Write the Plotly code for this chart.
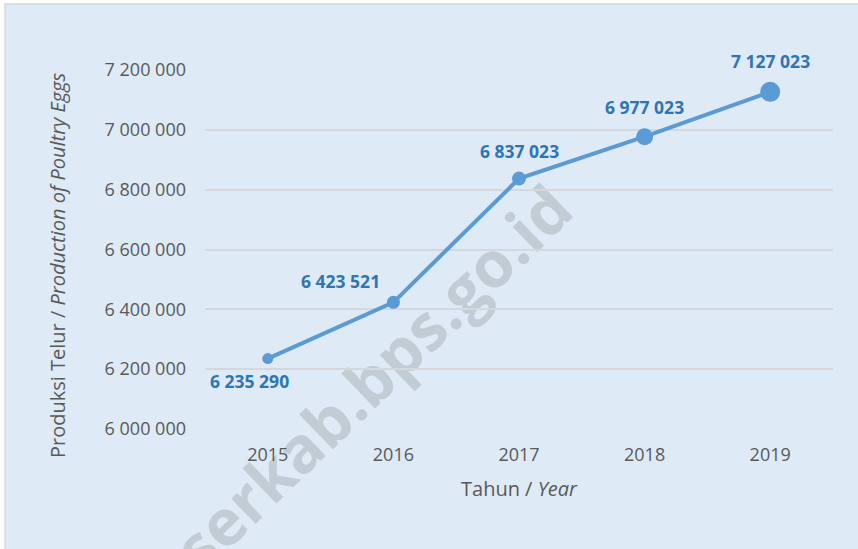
import plotly.graph_objects as go

years = ["2015", "2016", "2017", "2018", "2019"]
production = [6235290, 6423521, 6837023, 6977023, 7127023]
labels = ["6 235 290", "6 423 521", "6 837 023", "6 977 023", "7 127 023"]
marker_sizes = [11, 13, 14, 17, 20]
label_shift_x = [-18, -53, 0, 0, 0]
label_shift_y = [-22, 21, 28, 30, 31]
y_ticks = [6000000, 6200000, 6400000, 6600000, 6800000, 7000000, 7200000]
y_tick_text = ["6 000 000", "6 200 000", "6 400 000", "6 600 000", "6 800 000", "7 000 000", "7 200 000"]

W, H = 858, 549
ML, MR, MT, MB = 205, 25, 70, 120
pw, ph = W - ML - MR, H - MT - MB

def px_x(p):
    return (p - ML) / pw

def px_y(p):
    return (H - MB - p) / ph

BG = "#DEEAF6"
FONT = "Open Sans"

fig = go.Figure()
fig.add_trace(go.Scatter(
    x=years, y=production, mode="lines+markers",
    line=dict(color="#5B9BD5", width=4),
    marker=dict(color="#5B9BD5", size=marker_sizes, opacity=1, line=dict(width=0)),
    hoverinfo="skip", showlegend=False,
))

annotations = []
for i, (v, lab, sx, sy) in enumerate(zip(production, labels, label_shift_x, label_shift_y)):
    annotations.append(dict(x=i, y=v, xref="x", yref="y", text="<b>" + lab + "</b>",
                            showarrow=False, xshift=sx, yshift=sy,
                            xanchor="center", yanchor="middle",
                            font=dict(family=FONT, size=17.5, color="#2E75B6")))

annotations.append(dict(x=px_x(57), y=px_y(265), xref="paper", yref="paper",
                        text="Produksi Telur / <i>Production of Poultry Eggs</i>",
                        textangle=-90, showarrow=False, xanchor="center", yanchor="middle",
                        font=dict(family=FONT, size=20, color="#595959")))
annotations.append(dict(x=px_x(519), y=px_y(488), xref="paper", yref="paper",
                        text="Tahun / <i>Year</i>", showarrow=False,
                        xanchor="center", yanchor="middle",
                        font=dict(family=FONT, size=20, color="#595959")))

wm_cx, wm_cy = 375, 380
fig.update_layout(
    width=W, height=H,
    margin=dict(l=ML, r=MR, t=MT, b=MB),
    paper_bgcolor="white", plot_bgcolor="rgba(0,0,0,0)",
    font=dict(family=FONT, size=18, color="#595959"),
    annotations=annotations,
    shapes=[
        dict(type="rect", xref="paper", yref="paper", layer="below",
             x0=px_x(5), x1=px_x(870), y0=px_y(4), y1=px_y(560),
             fillcolor=BG, line=dict(color="#D9D9D9", width=1.5)),
        dict(type="rect", xref="paper", yref="paper", layer="between",
             x0=px_x(wm_cx - 10), x1=px_x(wm_cx + 10), y0=px_y(wm_cy + 10), y1=px_y(wm_cy - 10),
             fillcolor="rgba(0,0,0,0)", line=dict(width=0),
             label=dict(text="serkab.bps.go.id", textangle=-44, textposition="middle center",
                        font=dict(family=FONT, size=64, weight="bold",
                                  color="rgba(120,125,130,0.28)"))),
    ],
    xaxis=dict(type="category", range=[-0.5, 4.5], showgrid=False, showline=False,
               zeroline=False, ticks="", ticklabelstandoff=13,
               tickfont=dict(family=FONT, size=18, color="#595959")),
    yaxis=dict(range=[6000000, 7200000], tickvals=y_ticks, ticktext=y_tick_text,
               showgrid=True, gridcolor="#D4D8DC", gridwidth=1.5, zeroline=False,
               showline=False, ticks="", ticklabelstandoff=18,
               tickfont=dict(family=FONT, size=18, color="#595959")),
)

fig.write_html("out.html", config={"displayModeBar": False},
               post_script="document.body.style.margin='0';")
